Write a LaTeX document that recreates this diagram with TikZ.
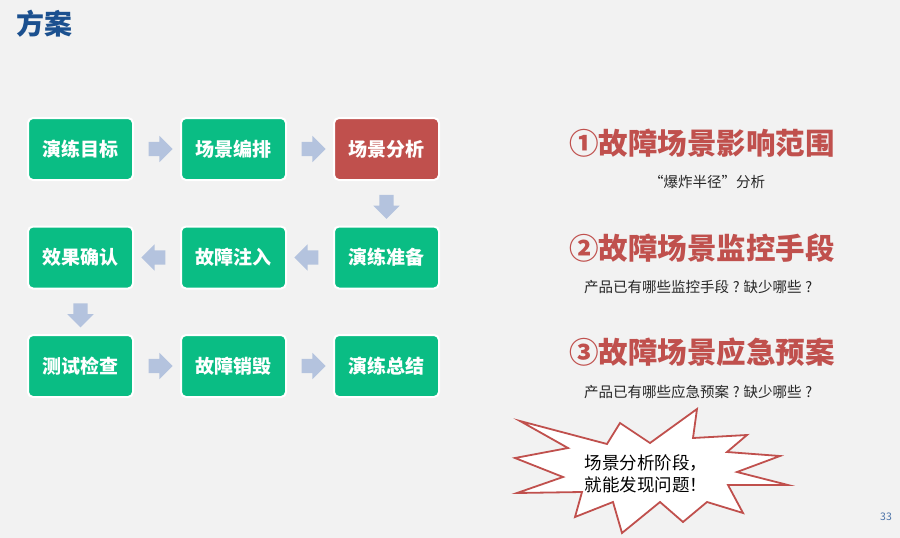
\documentclass[tikz,border=0pt]{standalone}
\usepackage{fontspec}
\usetikzlibrary{positioning,shapes.arrows,calc}
\newfontfamily\cjk{Noto Sans CJK SC}
\definecolor{bggray}{HTML}{F2F2F2}
\definecolor{boxgreen}{HTML}{0ABD84}
\definecolor{boxred}{HTML}{C0504D}
\definecolor{arrowblue}{HTML}{B4C3DE}
\definecolor{titleblue}{HTML}{1B508F}
\definecolor{pagenum}{HTML}{4A72A8}
\newcommand{\qmark}{\makebox[1em]{?}}

\begin{document}
\begin{tikzpicture}[x=1pt,y=1pt,
    stepbox/.style={draw=white, line width=2pt, rounded corners=5pt, fill=boxgreen,
        minimum width=105pt, minimum height=62pt, text=white,
        font=\cjk\bfseries\fontsize{19}{19}\selectfont},
    flowarrow/.style={single arrow, fill=arrowblue, draw=none, inner sep=7pt,
        single arrow head extend=6pt, minimum height=24pt},
    heading/.style={text=boxred, font=\cjk\bfseries\fontsize{29.5}{30}\selectfont},
    note/.style={text=black!85, font=\cjk\fontsize{14.5}{15}\selectfont},
    node distance=44.5pt and 46pt]
    \fill[bggray] (0,0) rectangle (900,-538);
    \node[anchor=west, text=titleblue, font=\cjk\bfseries\fontsize{28}{28}\selectfont] (title) at (13,-24) {方案};

    \node[stepbox] (goal) at (80.5,-149) {演练目标};
    \node[stepbox, right=of goal] (arrange) {场景编排};
    \node[stepbox, right=of arrange, fill=boxred] (analyse) {场景分析};
    \node[stepbox, below=of analyse] (prepare) {演练准备};
    \node[stepbox, left=of prepare] (inject) {故障注入};
    \node[stepbox, left=of inject] (confirm) {效果确认};
    \node[stepbox, below=of confirm] (check) {测试检查};
    \node[stepbox, right=of check] (destroy) {故障销毁};
    \node[stepbox, right=of destroy] (summary) {演练总结};

    \node[flowarrow] at ($(goal.east)!0.5!(arrange.west)$) {};
    \node[flowarrow] at ($(arrange.east)!0.5!(analyse.west)$) {};
    \node[flowarrow, rotate=-90] at ($(analyse.south)!0.5!(prepare.north)$) {};
    \node[flowarrow, rotate=180] at ($(prepare.west)!0.5!(inject.east)$) {};
    \node[flowarrow, rotate=180] at ($(inject.west)!0.5!(confirm.east)$) {};
    \node[flowarrow, rotate=-90] at ($(confirm.south)!0.5!(check.north)$) {};
    \node[flowarrow] at ($(check.east)!0.5!(destroy.west)$) {};
    \node[flowarrow] at ($(destroy.east)!0.5!(summary.west)$) {};

    \node[heading] (scope) at (702,-143) {①故障场景影响范围};
    \node[note] (scopenote) at (707,-182) {“爆炸半径”分析};
    \node[heading] (monitor) at (702,-248) {②故障场景监控手段};
    \node[note] (monitornote) at (700,-287) {产品已有哪些监控手段\qmark 缺少哪些\qmark};
    \node[heading] (plan) at (702,-352) {③故障场景应急预案};
    \node[note] (plannote) at (700,-392) {产品已有哪些应急预案\qmark 缺少哪些\qmark};

    \draw[draw=boxred, fill=white, line width=1.8pt] (520,-421) -- (607,-444) -- (620,-423)
        -- (650,-443) -- (697,-409) -- (693,-438) -- (747,-435) -- (727,-452)
        -- (780,-456) -- (737,-472) -- (788,-485) -- (728,-485) -- (743,-513)
        -- (707,-502) -- (683,-522) -- (660,-502) -- (622,-533) -- (613,-502)
        -- (575,-517) -- (582,-492) -- (517,-493) -- (563,-477) -- (515,-458)
        -- (568,-448) -- cycle;
    \node[anchor=west, align=left, text=black, font=\cjk\fontsize{17.5}{22}\selectfont] (punch) at (581,-474) {场景分析阶段，\\就能发现问题！};

    \node[text=pagenum, font=\cjk\fontsize{10.5}{10.5}\selectfont] (page) at (886,-517) {33};
\end{tikzpicture}
\end{document}
